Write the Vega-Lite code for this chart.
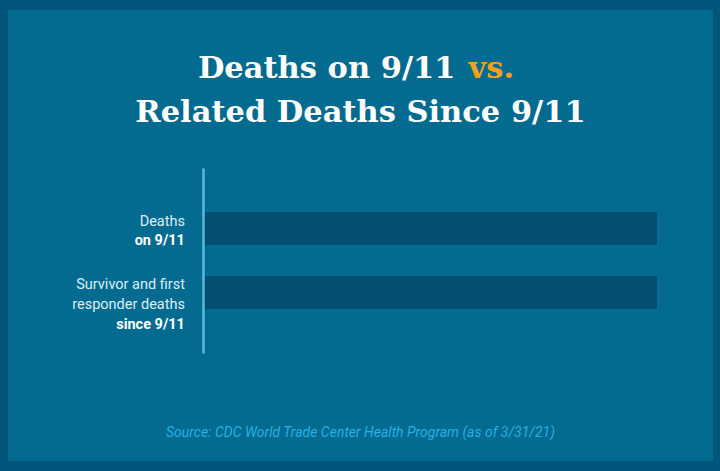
{
  "$schema": "https://vega.github.io/schema/vega-lite/v6.json",
  "background": "#03557b",
  "padding": {"left": 8, "top": 10, "right": 7, "bottom": 10},
  "spacing": 0,
  "bounds": "flush",
  "config": {
    "view": {"fill": "#036a90", "stroke": null},
    "font": "Roboto"
  },
  "datasets": {
    "headline": [
      {"part": "lead", "text": "Deaths on 9/11"},
      {"part": "accent", "text": "vs."},
      {"part": "second", "text": "Related Deaths Since 9/11"}
    ],
    "deaths": [
      {"group": "on", "deaths": 2977, "label": ["Deaths"], "strong": "on 9/11"},
      {"group": "since", "deaths": 2977, "label": ["Survivor and first", "responder deaths"], "strong": "since 9/11"}
    ],
    "source": [
      {"text": "Source: CDC World Trade Center Health Program (as of 3/31/21)"}
    ]
  },
  "vconcat": [
    {
      "width": 705,
      "height": 150,
      "view": {"fill": "#036a90", "stroke": null},
      "data": {"name": "headline"},
      "layer": [
        {
          "transform": [{"filter": "datum.part == 'lead'"}],
          "mark": {"type": "text", "align": "right", "baseline": "alphabetic", "dx": 95, "dy": -7, "font": "DejaVu Serif", "fontWeight": "bold", "fontSize": 30.5, "color": "#ffffff"},
          "encoding": {"text": {"field": "text"}}
        },
        {
          "transform": [{"filter": "datum.part == 'accent'"}],
          "mark": {"type": "text", "align": "left", "baseline": "alphabetic", "dx": 108, "dy": -7, "font": "DejaVu Serif", "fontWeight": "bold", "fontSize": 30.5, "color": "#f2a01e"},
          "encoding": {"text": {"field": "text"}}
        },
        {
          "transform": [{"filter": "datum.part == 'second'"}],
          "mark": {"type": "text", "align": "center", "baseline": "alphabetic", "dy": 37, "font": "DejaVu Serif", "fontWeight": "bold", "fontSize": 30.5, "color": "#ffffff"},
          "encoding": {"text": {"field": "text"}}
        }
      ]
    },
    {
      "width": 705,
      "height": 241,
      "data": {"name": "deaths"},
      "encoding": {
        "y": {
          "field": "group",
          "type": "nominal",
          "sort": null,
          "scale": {"range": [8, 193], "paddingInner": 0.484, "paddingOuter": 0.69},
          "axis": {"orient": "left", "offset": -195, "labels": false, "ticks": false, "title": null, "domainColor": "#5cb9de", "domainWidth": 2.5}
        }
      },
      "layer": [
        {
          "mark": {"type": "bar", "color": "#034f70"},
          "encoding": {
            "x": {
              "field": "deaths",
              "type": "quantitative",
              "scale": {"domain": [-1297, 3346], "nice": false, "zero": false},
              "axis": {"orient": "bottom", "labels": false, "ticks": false, "grid": false, "title": null, "domainColor": "#045f84", "domainWidth": 1.5}
            }
          }
        },
        {
          "mark": {"type": "text", "align": "right", "baseline": "alphabetic", "dx": -20, "dy": -3, "fontSize": 14.5, "lineHeight": 19.5, "color": "#dcf0f8"},
          "encoding": {
            "x": {"datum": 0, "type": "quantitative"},
            "text": {"field": "label"}
          }
        },
        {
          "transform": [{"filter": "datum.group == 'on'"}],
          "mark": {"type": "text", "align": "right", "baseline": "alphabetic", "dx": -20, "dy": 16.5, "fontSize": 14.5, "fontWeight": "bold", "color": "#ffffff"},
          "encoding": {
            "x": {"datum": 0, "type": "quantitative"},
            "text": {"field": "strong"}
          }
        },
        {
          "transform": [{"filter": "datum.group == 'since'"}],
          "mark": {"type": "text", "align": "right", "baseline": "alphabetic", "dx": -20, "dy": 36.5, "fontSize": 14.5, "fontWeight": "bold", "color": "#ffffff"},
          "encoding": {
            "x": {"datum": 0, "type": "quantitative"},
            "text": {"field": "strong"}
          }
        }
      ]
    },
    {
      "width": 705,
      "height": 60,
      "view": {"fill": "#036a90", "stroke": null},
      "data": {"name": "source"},
      "mark": {"type": "text", "align": "center", "baseline": "alphabetic", "dy": 6, "fontSize": 14, "fontStyle": "italic", "color": "#27b0e2"},
      "encoding": {"text": {"field": "text"}}
    }
  ]
}
